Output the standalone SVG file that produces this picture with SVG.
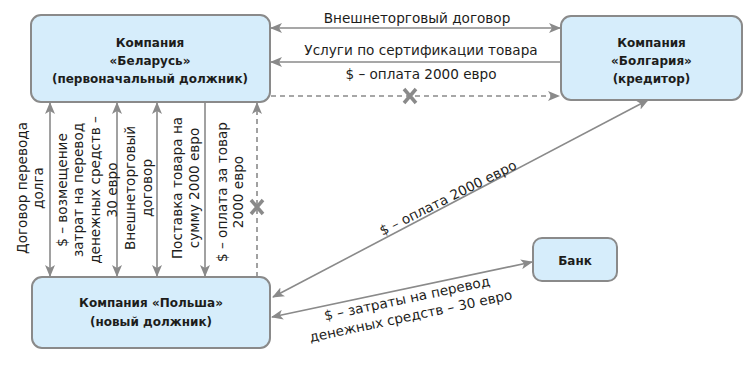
<svg xmlns="http://www.w3.org/2000/svg" width="750" height="370" viewBox="0 0 750 370">
<style>
.box{fill:#d6edfb;stroke:#8a8a8a;stroke-width:2}
.bt{font-family:"DejaVu Sans","Liberation Sans",sans-serif;font-size:12px;font-weight:bold;fill:#1d1d1b;text-anchor:middle}
.lt{font-family:"DejaVu Sans","Liberation Sans",sans-serif;font-size:13.6px;fill:#1d1d1b;text-anchor:middle}
.c{fill:none;stroke:#8a8a8a;stroke-width:1.6}
.d{stroke-dasharray:5 4}
.x{stroke:#8a8a8a;stroke-width:3.5;fill:none}
</style>
<defs>
<marker id="ah" viewBox="0 0 12 10" refX="11" refY="5" markerWidth="12" markerHeight="10" markerUnits="userSpaceOnUse" orient="auto-start-reverse">
<path d="M0,0 L12,5 L0,10 L3,5 z" fill="#8a8a8a"/>
</marker>
</defs>
<g id="connectors">
<line class="c" x1="271" y1="28" x2="560" y2="28" marker-start="url(#ah)" marker-end="url(#ah)"/>
<line class="c" x1="561" y1="62" x2="271" y2="62" marker-end="url(#ah)"/>
<line class="c d" x1="271" y1="96" x2="559" y2="96" marker-end="url(#ah)"/>
<path class="x" d="M404,89 L416,103 M416,89 L404,103"/>
<line class="c" x1="50" y1="103" x2="50" y2="276" marker-start="url(#ah)" marker-end="url(#ah)"/>
<line class="c" x1="117" y1="103" x2="117" y2="276" marker-start="url(#ah)" marker-end="url(#ah)"/>
<line class="c" x1="157" y1="103" x2="157" y2="276" marker-start="url(#ah)" marker-end="url(#ah)"/>
<line class="c" x1="205" y1="102" x2="205" y2="276" marker-end="url(#ah)"/>
<line class="c d" x1="257" y1="277" x2="257" y2="103" marker-end="url(#ah)"/>
<path class="x" d="M251,200 L263,214 M263,200 L251,214"/>
<line class="c" x1="273" y1="297" x2="648" y2="100" marker-start="url(#ah)" marker-end="url(#ah)"/>
<line class="c" x1="272" y1="317" x2="532" y2="262" marker-start="url(#ah)" marker-end="url(#ah)"/>
<text class="lt" x="417" y="23">Внешнеторговый договор</text>
<text class="lt" x="421" y="55">Услуги по сертификации товара</text>
<text class="lt" x="421" y="79">$ – оплата 2000 евро</text>
<text class="lt" transform="translate(0,188) rotate(-90)"><tspan x="0" y="26.5">Договор перевода</tspan><tspan x="0" y="42.5">долга</tspan></text>
<text class="lt" transform="translate(0,190) rotate(-90)"><tspan x="0" y="66.5">$ – возмещение</tspan><tspan x="0" y="83">затрат на перевод</tspan><tspan x="0" y="100">денежных средств –</tspan><tspan x="0" y="116.5">30 евро</tspan></text>
<text class="lt" transform="translate(0,188) rotate(-90)"><tspan x="0" y="134.5">Внешнеторговый</tspan><tspan x="0" y="152">договор</tspan></text>
<text class="lt" transform="translate(0,188) rotate(-90)"><tspan x="0" y="181.5">Поставка товара на</tspan><tspan x="0" y="199">сумму 2000 евро</tspan></text>
<text class="lt" transform="translate(0,192) rotate(-90)"><tspan x="0" y="226.5">$ – оплата за товар</tspan><tspan x="0" y="243">2000 евро</tspan></text>
<text class="lt" transform="translate(450,202) rotate(-26.5)">$ – оплата 2000 евро</text>
<text class="lt" transform="translate(408,303) rotate(-12)"><tspan x="0" y="0">$ – затраты на перевод</tspan><tspan x="0" y="18">денежных средств – 30 евро</tspan></text>
</g>
<g id="belarus">
<rect class="box" x="31" y="15" width="239" height="87" rx="10"/>
<text class="bt"><tspan x="150" y="47">Компания</tspan><tspan x="150" y="65">«Беларусь»</tspan><tspan x="150" y="83">(первоначальный должник)</tspan></text>
</g>
<g id="bulgaria">
<rect class="box" x="561" y="16" width="181" height="84" rx="10"/>
<text class="bt"><tspan x="651.5" y="47">Компания</tspan><tspan x="651.5" y="65">«Болгария»</tspan><tspan x="651.5" y="83">(кредитор)</tspan></text>
</g>
<g id="poland">
<rect class="box" x="32" y="277" width="238" height="71" rx="10"/>
<text class="bt"><tspan x="151" y="307">Компания «Польша»</tspan><tspan x="151" y="326">(новый должник)</tspan></text>
</g>
<g id="bank">
<rect class="box" x="533" y="238" width="84" height="43" rx="9"/>
<text class="bt" x="575" y="265">Банк</text>
</g>
</svg>
